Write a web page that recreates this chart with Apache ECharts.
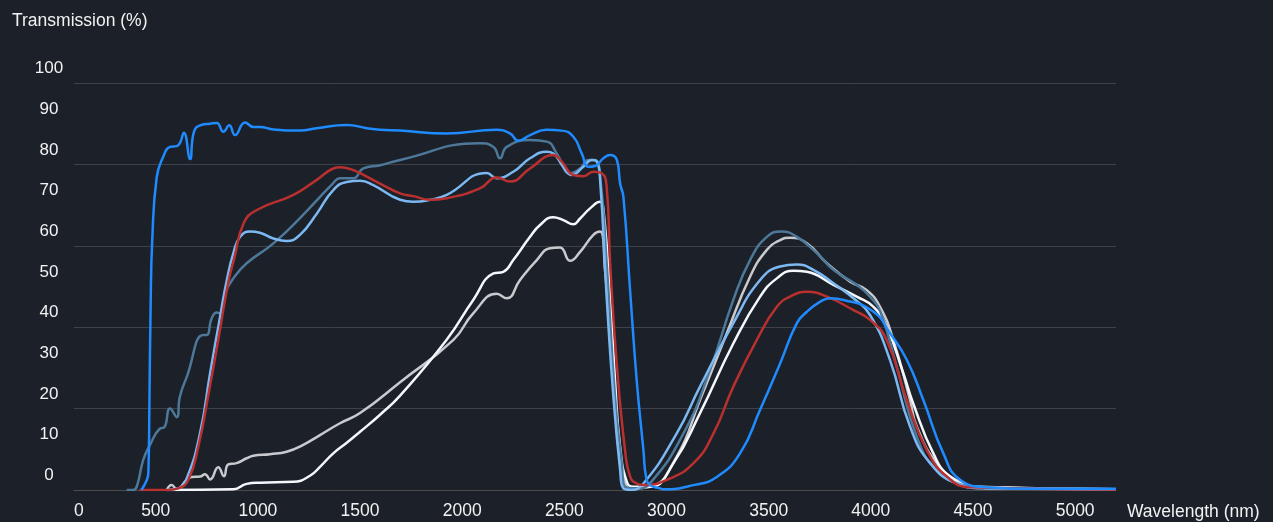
<!DOCTYPE html>
<html>
<head>
<meta charset="utf-8">
<title>Transmission</title>
<script src="https://cdn.jsdelivr.net/npm/echarts@6/dist/echarts.min.js"></script>
<style>
  html, body { margin: 0; padding: 0; background: #1b2029; }
  #chart { width: 1273px; height: 522px; }
</style>
</head>
<body>
<div id="chart"></div>
<script>
// wavelength axis
var X_MIN = 100;
var X_MAX = 5200;
var xTickValues = [0, 500, 1000, 1500, 2000, 2500, 3000, 3500, 4000, 4500, 5000];
var xTickLabels = ['0', '500', '1000', '1500', '2000', '2500', '3000', '3500', '4000', '4500', '5000'];

// transmission curves, [wavelength nm, transmission %]
var curveGray = [[554,0],[578,1.2],[603,0.2],[652,2.5],[676,3.2],[717,3.3],[741,3.9],[766,2.6],[806,5.6],[834,3.4],[855,6.3],[896,6.6],[945,7.8],[978,8.4],[1059,8.8],[1141,9.4],[1222,11.1],[1304,13.5],[1402,16.4],[1500,18.9],[1696,26.5],[1957,36.9],[2054,43.4],[2169,48.2],[2218,47.1],[2283,51.6],[2365,56.5],[2430,59.4],[2479,59.6],[2528,56.3],[2577,58.5],[2642,62.7],[2675,63.5],[2699,54],[2724,39.3],[2748,21.4],[2773,6.6],[2797,1.6],[2830,0.4],[2920,0.8],[3050,8.2],[3164,22.1],[3295,38.5],[3409,52.4],[3491,59],[3556,61.4],[3605,62],[3687,60.6],[3785,55.7],[3899,51.2],[3980,49.1],[4045,45],[4110,36.9],[4192,22.1],[4225,15.6],[4323,6.6],[4437,2],[4551,0.7],[5200,0.2]];
var curveWhite = [[554,0],[880,0.2],[945,1.5],[1010,1.8],[1174,2],[1255,3.5],[1304,5.7],[1369,9],[1435,11.6],[1500,14.3],[1598,18.5],[1696,23.2],[1924,36.9],[2054,46.7],[2153,53.2],[2201,53.6],[2250,56.5],[2332,62.2],[2381,65.1],[2446,67],[2495,66.3],[2544,65.3],[2577,66.7],[2626,69.2],[2675,70.8],[2691,69],[2724,47.5],[2748,27],[2773,10.6],[2806,2],[2838,0.8],[2920,0.8],[3034,6.6],[3164,18.9],[3327,36],[3458,47.5],[3540,52],[3621,53.9],[3687,53.6],[3817,50.4],[3931,47.5],[4013,45],[4077,40.1],[4159,28.7],[4208,21.2],[4306,9],[4388,3.3],[4519,0.8],[5200,0.2]];
var curveSteel = [[358,0],[389,0],[407,0.8],[439,7.4],[472,11.1],[521,15.1],[542,15.4],[570,20],[603,17.9],[618,22.9],[652,27.8],[733,38.1],[750,38.1],[774,42.2],[799,43.6],[815,43.4],[839,48.3],[880,52],[945,55.7],[1076,60.6],[1206,66.8],[1369,75.4],[1402,76.6],[1467,76.6],[1516,79],[1598,79.8],[1696,81.1],[2087,85.2],[2153,84.3],[2185,81.5],[2218,84.3],[2332,86],[2414,85.6],[2463,82.7],[2528,77.8],[2577,79],[2618,81.1],[2650,81.1],[2675,77],[2707,55.8],[2748,22.9],[2781,6.6],[2797,0.8],[2854,0.4],[2920,1.7],[3083,13.9],[3213,29.5],[3327,46.7],[3409,56.5],[3491,62.2],[3564,63.5],[3638,62.2],[3736,58.2],[3817,54.1],[3931,50.4],[3996,47.5],[4045,44],[4127,30.3],[4225,13.1],[4323,4.9],[4453,1.2],[4584,0.4],[5200,0.2]];
var curveLightBlue = [[554,0],[610,0.4],[652,2.9],[717,14],[766,28.7],[815,42.6],[848,51.6],[880,58.2],[913,62.2],[962,63.5],[1010,63.2],[1076,61.8],[1141,61.2],[1206,62.7],[1288,67.9],[1369,73.7],[1435,75.7],[1500,76],[1565,74.9],[1696,71.3],[1761,70.8],[1843,71.3],[1924,72.5],[2120,77.9],[2169,76.6],[2250,78.2],[2332,81.5],[2414,83.1],[2446,82.7],[2495,79.4],[2536,77.4],[2593,79.4],[2634,81.1],[2659,80.7],[2675,76.2],[2707,47.5],[2740,22.9],[2773,4.9],[2789,0.4],[2822,0],[2887,1.6],[3050,13.9],[3164,25.4],[3327,41],[3458,51.6],[3556,54.9],[3638,55.4],[3719,54.1],[3817,50.8],[3915,47.1],[3996,43],[4094,31.9],[4192,15.6],[4290,6.6],[4421,1.6],[4551,0.4],[5200,0.2]];
var curveRed = [[420,0],[554,0],[610,0.4],[660,2.5],[710,11],[760,24],[810,38],[855,51],[885,57],[930,65.5],[995,68.8],[1174,72.5],[1288,76.2],[1369,79],[1402,79.3],[1467,78.6],[1533,77],[1598,75.3],[1696,72.9],[1761,72.2],[1843,71.3],[1924,71.7],[2087,74.1],[2169,76.8],[2234,75.8],[2332,79],[2446,82.3],[2487,80.7],[2544,77.4],[2593,77.1],[2642,78.2],[2683,77.8],[2707,74.5],[2724,55.9],[2756,31.4],[2797,9.8],[2822,3.3],[2854,1.6],[2887,1.2],[3002,2.5],[3132,6.6],[3230,13.9],[3327,25.4],[3442,36.9],[3540,45],[3605,47.5],[3687,48.7],[3785,47.5],[3915,44.2],[3996,41.8],[4077,36.9],[4176,22.1],[4274,9.8],[4372,3.3],[4486,0.7],[5200,0.1]];
var curveBlue = [[430,0],[457,2.5],[464,4.2],[469,20.6],[475,45],[483,61.4],[505,76.9],[536,81.8],[570,84.3],[603,84.5],[619,85.3],[638,87.8],[668,81.3],[687,88],[717,89.6],[766,90],[799,90.2],[831,88],[860,89.6],[888,87.2],[937,90.3],[978,89.2],[1010,89.2],[1076,88.6],[1206,88.3],[1288,88.9],[1435,89.7],[1533,88.9],[1598,88.5],[1696,88.3],[1924,87.6],[2169,88.5],[2234,87.6],[2275,85.8],[2332,87.2],[2414,88.5],[2487,88.3],[2544,86.8],[2585,82.7],[2618,79.4],[2650,79.6],[2691,81.5],[2724,82.3],[2757,81.1],[2773,75.3],[2789,72],[2822,48.9],[2854,27],[2887,9.8],[2900,3.2],[2920,1.2],[2969,0.4],[2985,0.2],[3132,1.2],[3246,3.2],[3360,9],[3458,19.7],[3556,31.1],[3638,41],[3687,43.8],[3753,46.3],[3802,47.1],[3867,46.7],[4013,43.8],[4094,38.5],[4176,32],[4257,22.1],[4355,9],[4437,2.5],[4566,0.7],[4800,0.3],[5200,0.3]];

var FONT = 'Liberation Sans, Arial, sans-serif';
var TEXT = '#f2f2f2';

// label "0" sits at the left end of the axis
var xLabelPos = xTickValues.map(function (v) { return Math.max(v, X_MIN); });

function line(name, data, color) {
    return {
        name: name,
        type: 'line',
        data: data,
        showSymbol: false,
        smooth: 0.5,
        lineStyle: { color: color, width: 2.5 },
        itemStyle: { color: color }
    };
}

var myChart = echarts.init(document.getElementById('chart'));

var option = {
    backgroundColor: '#1b2029',
    animation: false,
    title: {
        text: 'Transmission (%)',
        left: 12,
        top: 12,
        padding: 0,
        textStyle: { color: TEXT, fontSize: 17.5, fontWeight: 'normal', fontFamily: FONT }
    },
    grid: { left: 74, right: 157, top: 83, bottom: 32 },
    xAxis: {
        type: 'value',
        min: X_MIN,
        max: X_MAX,
        name: 'Wavelength (nm)',
        nameLocation: 'end',
        nameGap: 11,
        nameTextStyle: {
            color: TEXT, fontSize: 17.5, fontFamily: FONT,
            align: 'left', verticalAlign: 'top', lineHeight: 18, padding: [13, 0, 0, 0]
        },
        axisLine: { show: true, lineStyle: { color: '#4d4a4a', width: 1 } },
        axisTick: { show: false },
        splitLine: { show: false },
        axisLabel: {
            customValues: xLabelPos,
            alignMinLabel: 'left',
            margin: 12,
            color: TEXT,
            fontSize: 17.5,
            fontFamily: FONT,
            formatter: function (v) {
                var i = xLabelPos.indexOf(v);
                return i >= 0 ? xTickLabels[i] : '';
            }
        }
    },
    yAxis: {
        type: 'value',
        min: 0,
        max: 100,
        interval: 10,
        axisLine: { show: false },
        axisTick: { show: false },
        splitLine: {
            show: true,
            lineStyle: { color: ['#3e4148', 'rgba(0,0,0,0)'], width: 1 }
        },
        axisLabel: {
            align: 'center',
            verticalAlign: 'bottom',
            margin: 25,
            padding: [0, 0, 6, 0],
            color: TEXT,
            fontSize: 17,
            fontFamily: FONT
        }
    },
    series: [
        line('A', curveGray, '#c9cacd'),
        line('B', curveWhite, '#f4f7fb'),
        line('C', curveSteel, '#4d7899'),
        line('D', curveLightBlue, '#7cb8f2'),
        line('E', curveRed, '#b9302e'),
        line('F', curveBlue, '#1f8bff')
    ]
};

myChart.setOption(option);
window.addEventListener('resize', function () {
    myChart.resize();
});
</script>
</body>
</html>
